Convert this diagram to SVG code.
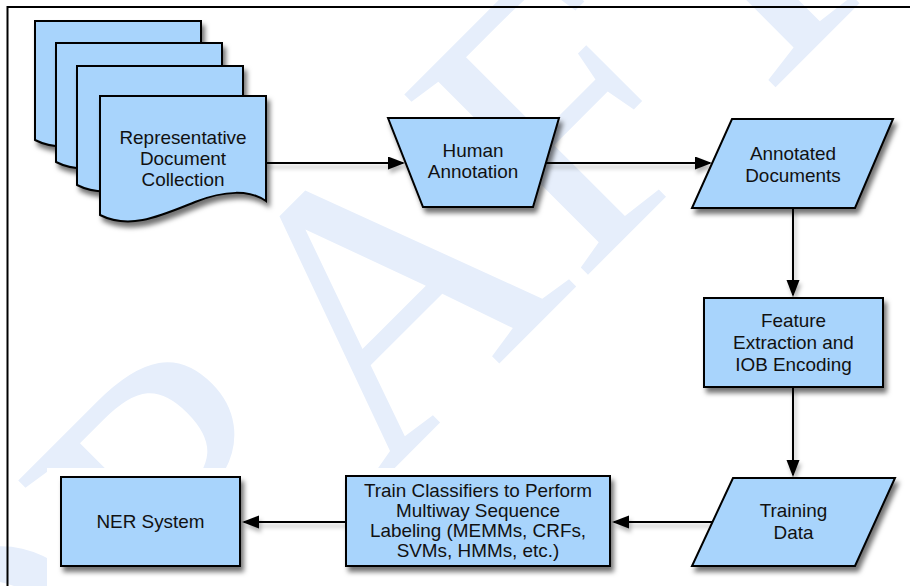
<svg xmlns="http://www.w3.org/2000/svg" width="910" height="586" viewBox="0 0 910 586">
<defs>
<style>
.node{fill:#a8d4fc;stroke:#000;stroke-width:2;stroke-linejoin:miter;filter:url(#sh)}
.lbl{font-family:"Liberation Sans",Arial,sans-serif;font-size:17.5px;fill:#111;text-anchor:middle}
.edge{stroke:#000;stroke-width:2;fill:none;marker-end:url(#ah);filter:url(#esh)}
.wm{font-family:"Liberation Serif","Times New Roman",serif;font-size:393px;fill:#e6eefb}
</style>
<filter id="sh" x="-20%" y="-20%" width="150%" height="160%">
<feDropShadow dx="3" dy="5" stdDeviation="2.5" flood-color="#000" flood-opacity="0.55"/>
</filter>
<filter id="esh" x="-20%" y="-50%" width="150%" height="300%" filterUnits="userSpaceOnUse">
<feDropShadow dx="2" dy="4" stdDeviation="2" flood-color="#000" flood-opacity="0.3"/>
</filter>
<marker id="ah" markerUnits="userSpaceOnUse" markerWidth="18" markerHeight="14" refX="15" refY="6.5" orient="auto">
<path d="M0,0 L17,6.5 L0,13 Z" fill="#000"/>
</marker>
<path id="doc" d="M0,0 H166 V105 C150,94 125,94 95,106 C60,120 30,134 0,119 Z"/>
</defs>
<rect x="0" y="0" width="910" height="586" fill="#fff"/>
<g id="watermark">
<text class="wm" transform="rotate(-45)" x="-622" y="610">DRAFT</text>
<rect x="47" y="468" width="863" height="118" fill="#fff"/>
</g>
<g id="frame" stroke="#000" stroke-width="2" fill="none">
<path d="M7.5,586 V7 H910"/>
</g>
<g id="connectors">
<path class="edge" d="M266,163 H403"/>
<path class="edge" d="M546,163 H710"/>
<path class="edge" d="M793,208 V295"/>
<path class="edge" d="M793,387 V475"/>
<path class="edge" d="M712,522 H614"/>
<path class="edge" d="M346,522 H244"/>
</g>
<g id="doc-collection">
<use href="#doc" class="node" transform="translate(35,21)"/>
<use href="#doc" class="node" transform="translate(56,43)"/>
<use href="#doc" class="node" transform="translate(77,66)"/>
<use href="#doc" class="node" transform="translate(100,96)"/>
<text class="lbl" transform="translate(183,0) scale(1.08,1)"><tspan x="0" y="144">Representative</tspan><tspan x="0" y="165.5">Document</tspan><tspan x="0" y="186">Collection</tspan></text>
</g>
<g id="human-annotation">
<path class="node" d="M388,118 H559 L533,207 H423 Z"/>
<text class="lbl" transform="translate(473,0) scale(1.08,1)"><tspan x="0" y="157">Human</tspan><tspan x="0" y="178.5">Annotation</tspan></text>
</g>
<g id="annotated-documents">
<path class="node" d="M732,119 H893 L855,208 H692 Z"/>
<text class="lbl" transform="translate(793,0) scale(1.08,1)"><tspan x="0" y="160">Annotated</tspan><tspan x="0" y="182">Documents</tspan></text>
</g>
<g id="feature-extraction">
<rect class="node" x="704" y="298" width="179" height="89"/>
<text class="lbl" transform="translate(793.5,0) scale(1.08,1)"><tspan x="0" y="327">Feature</tspan><tspan x="0" y="349">Extraction and</tspan><tspan x="0" y="371">IOB Encoding</tspan></text>
</g>
<g id="training-data">
<path class="node" d="M733,478 H895 L855,566 H692 Z"/>
<text class="lbl" transform="translate(793.5,0) scale(1.08,1)"><tspan x="0" y="517">Training</tspan><tspan x="0" y="539.5">Data</tspan></text>
</g>
<g id="train-classifiers">
<rect class="node" x="346" y="476" width="264" height="90"/>
<text class="lbl" transform="translate(478,0) scale(1.08,1)"><tspan x="0" y="497">Train Classifiers to Perform</tspan><tspan x="0" y="517">Multiway Sequence</tspan><tspan x="0" y="537">Labeling (MEMMs, CRFs,</tspan><tspan x="0" y="557">SVMs, HMMs, etc.)</tspan></text>
</g>
<g id="ner-system">
<rect class="node" x="61" y="477" width="179" height="89"/>
<text class="lbl" transform="translate(150.5,0) scale(1.08,1)"><tspan x="0" y="528">NER System</tspan></text>
</g>
</svg>
